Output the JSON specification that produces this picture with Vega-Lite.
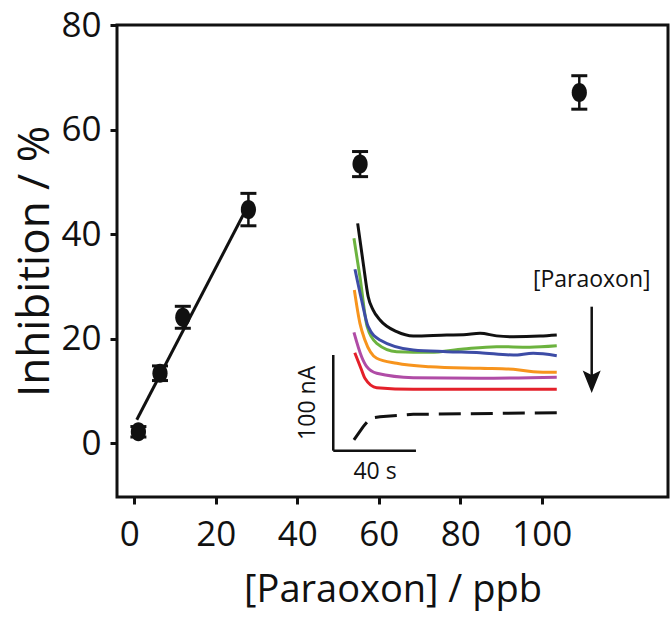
{
  "$schema": "https://vega.github.io/schema/vega-lite/v6.json",
  "width": 551,
  "height": 472,
  "autosize": {"type": "none"},
  "padding": {"left": 117, "top": 25, "right": 3, "bottom": 129},
  "background": "white",
  "config": {
    "view": {"stroke": "#111", "strokeWidth": 3},
    "font": "Open Sans",
    "axis": {
      "domain": false,
      "grid": false,
      "tickColor": "#111",
      "tickWidth": 3,
      "tickSize": 7,
      "labelColor": "#111",
      "titleColor": "#111",
      "labelFont": "Open Sans",
      "titleFont": "Open Sans",
      "labelFontSize": 35,
      "titleFontWeight": "normal"
    }
  },
  "datasets": {
    "points": [
      {"ppb": 1.0, "inh": 2.2, "lo": 1.2, "hi": 3.2},
      {"ppb": 6.3, "inh": 13.4, "lo": 12.0, "hi": 14.8},
      {"ppb": 11.9, "inh": 24.1, "lo": 22.0, "hi": 26.2},
      {"ppb": 28.0, "inh": 44.7, "lo": 41.6, "hi": 47.8},
      {"ppb": 55.4, "inh": 53.4, "lo": 51.0, "hi": 55.8},
      {"ppb": 109.2, "inh": 67.1, "lo": 63.9, "hi": 70.3}
    ],
    "fit": [
      {"ppb": 0.6, "inh": 4.5},
      {"ppb": 27.6, "inh": 45.0}
    ],
    "traces": [
      {"s": "a", "t": 11.8, "i": 237.6}, {"s": "a", "t": 14.5, "i": 195.8}, {"s": "a", "t": 16.9, "i": 160.9}, {"s": "a", "t": 19.3, "i": 147.0}, {"s": "a", "t": 22.6, "i": 136.6}, {"s": "a", "t": 30.7, "i": 124.4}, {"s": "a", "t": 38.7, "i": 119.9}, {"s": "a", "t": 54.9, "i": 120.9}, {"s": "a", "t": 63.0, "i": 121.2}, {"s": "a", "t": 71.0, "i": 122.7}, {"s": "a", "t": 79.0, "i": 120.0}, {"s": "a", "t": 87.1, "i": 119.1}, {"s": "a", "t": 100.0, "i": 119.8}, {"s": "a", "t": 108.1, "i": 120.9},
      {"s": "b", "t": 10.0, "i": 222.0}, {"s": "b", "t": 12.9, "i": 181.8}, {"s": "b", "t": 16.4, "i": 129.6}, {"s": "b", "t": 21.0, "i": 112.2}, {"s": "b", "t": 30.7, "i": 103.5}, {"s": "b", "t": 46.8, "i": 102.8}, {"s": "b", "t": 62.9, "i": 106.3}, {"s": "b", "t": 79.0, "i": 108.7}, {"s": "b", "t": 95.0, "i": 108.2}, {"s": "b", "t": 108.1, "i": 109.7},
      {"s": "c", "t": 10.5, "i": 189.6}, {"s": "c", "t": 13.7, "i": 157.5}, {"s": "c", "t": 16.9, "i": 129.6}, {"s": "c", "t": 22.6, "i": 115.7}, {"s": "c", "t": 38.7, "i": 105.2}, {"s": "c", "t": 54.9, "i": 103.5}, {"s": "c", "t": 71.0, "i": 102.4}, {"s": "c", "t": 87.1, "i": 100.0}, {"s": "c", "t": 96.7, "i": 101.8}, {"s": "c", "t": 108.1, "i": 99.3},
      {"s": "d", "t": 10.2, "i": 167.9}, {"s": "d", "t": 12.9, "i": 133.1}, {"s": "d", "t": 15.3, "i": 115.7}, {"s": "d", "t": 21.0, "i": 96.6}, {"s": "d", "t": 30.7, "i": 91.3}, {"s": "d", "t": 46.8, "i": 87.8}, {"s": "d", "t": 71.0, "i": 86.1}, {"s": "d", "t": 87.1, "i": 85.1}, {"s": "d", "t": 96.7, "i": 82.6}, {"s": "d", "t": 108.1, "i": 81.9},
      {"s": "e", "t": 10.0, "i": 123.7}, {"s": "e", "t": 13.7, "i": 98.2}, {"s": "e", "t": 16.2, "i": 87.8}, {"s": "e", "t": 21.0, "i": 80.9}, {"s": "e", "t": 38.7, "i": 76.3}, {"s": "e", "t": 71.0, "i": 75.7}, {"s": "e", "t": 108.1, "i": 76.7},
      {"s": "f", "t": 10.4, "i": 102.4}, {"s": "f", "t": 13.7, "i": 84.3}, {"s": "f", "t": 15.3, "i": 75.7}, {"s": "f", "t": 21.0, "i": 65.8}, {"s": "f", "t": 38.7, "i": 64.2}, {"s": "f", "t": 71.0, "i": 64.2}, {"s": "f", "t": 108.1, "i": 64.2}
    ],
    "blank": [
      {"t": 10.0, "i": 11.2}, {"t": 14.5, "i": 25.1}, {"t": 17.8, "i": 33.9}, {"t": 22.6, "i": 35.5}, {"t": 38.7, "i": 38.0}, {"t": 108.1, "i": 39.7}
    ],
    "bars": [
      {"t": 0, "i": 0, "t2": 0, "i2": 100},
      {"t": 0, "i": 0, "t2": 40, "i2": 0}
    ],
    "arrow": [
      {"t": 125, "i": 150.5, "i2": 72}
    ],
    "labels": [
      {"t": -12.2, "i": 50, "label": "100 nA", "angle": 270},
      {"t": 20.2, "i": -21.9, "label": "40 s", "angle": 0},
      {"t": 125, "i": 178.4, "label": "[Paraoxon]", "angle": 0}
    ]
  },
  "resolve": {"scale": {"x": "independent", "y": "independent"}},
  "layer": [
    {
      "layer": [
        {
          "data": {"name": "fit"},
          "mark": {"type": "line", "color": "#111", "strokeWidth": 3},
          "encoding": {
            "x": {"field": "ppb", "type": "quantitative",
                  "scale": {"domain": [-4.25, 130.97], "nice": false, "zero": false},
                  "axis": {"values": [0, 20, 40, 60, 80, 100], "title": "[Paraoxon] / ppb", "titleFontSize": 38,
                           "labelPadding": 13, "titlePadding": 19,
                           "labelOffset": {"condition": {"test": "datum.value == 0", "value": -5}, "value": 0}}},
            "y": {"field": "inh", "type": "quantitative",
                  "scale": {"domain": [-10.27, 80], "nice": false, "zero": false},
                  "axis": {"values": [0, 20, 40, 60, 80], "title": "Inhibition / %", "titleFontSize": 44,
                           "labelPadding": 9, "titlePadding": 3}}
          }
        },
        {
          "data": {"name": "points"},
          "mark": {"type": "rule", "color": "#111", "strokeWidth": 2.5},
          "encoding": {
            "x": {"field": "ppb", "type": "quantitative"},
            "y": {"field": "lo", "type": "quantitative"},
            "y2": {"field": "hi"}
          }
        },
        {
          "data": {"name": "points"},
          "mark": {"type": "tick", "orient": "horizontal", "color": "#111", "size": 16, "thickness": 3, "opacity": 1},
          "encoding": {
            "x": {"field": "ppb", "type": "quantitative"},
            "y": {"field": "lo", "type": "quantitative"}
          }
        },
        {
          "data": {"name": "points"},
          "mark": {"type": "tick", "orient": "horizontal", "color": "#111", "size": 16, "thickness": 3, "opacity": 1},
          "encoding": {
            "x": {"field": "ppb", "type": "quantitative"},
            "y": {"field": "hi", "type": "quantitative"}
          }
        },
        {
          "data": {"name": "points"},
          "mark": {"type": "point", "filled": true, "color": "#111", "opacity": 1, "size": 361,
                   "shape": "M-0.8,0A0.8,1 0 1,0 0.8,0A0.8,1 0 1,0 -0.8,0Z"},
          "encoding": {
            "x": {"field": "ppb", "type": "quantitative"},
            "y": {"field": "inh", "type": "quantitative"}
          }
        }
      ]
    },
    {
      "layer": [
        {
          "data": {"name": "traces"},
          "mark": {"type": "line", "strokeWidth": 3, "interpolate": "monotone"},
          "encoding": {
            "x": {"field": "t", "type": "quantitative", "axis": null,
                  "scale": {"domain": [-104.6, 161.9], "nice": false, "zero": false}},
            "y": {"field": "i", "type": "quantitative", "axis": null,
                  "scale": {"domain": [-48.4, 444.9], "nice": false, "zero": false}},
            "color": {"field": "s", "type": "nominal", "legend": null,
                      "scale": {"domain": ["a", "b", "c", "d", "e", "f"],
                                "range": ["#111111", "#6cb33f", "#3d4ca6", "#f7941d", "#b04ca6", "#e4202a"]}}
          }
        },
        {
          "data": {"name": "blank"},
          "mark": {"type": "line", "strokeWidth": 3, "color": "#111", "strokeDash": [22, 10]},
          "encoding": {
            "x": {"field": "t", "type": "quantitative"},
            "y": {"field": "i", "type": "quantitative"}
          }
        },
        {
          "data": {"name": "bars"},
          "mark": {"type": "rule", "strokeWidth": 2.5, "color": "#111"},
          "encoding": {
            "x": {"field": "t", "type": "quantitative"},
            "y": {"field": "i", "type": "quantitative"},
            "x2": {"field": "t2"},
            "y2": {"field": "i2"}
          }
        },
        {
          "data": {"name": "arrow"},
          "mark": {"type": "rule", "strokeWidth": 2.5, "color": "#111"},
          "encoding": {
            "x": {"field": "t", "type": "quantitative"},
            "y": {"field": "i", "type": "quantitative"},
            "y2": {"field": "i2"}
          }
        },
        {
          "data": {"name": "arrow"},
          "mark": {"type": "point", "filled": true, "color": "#111", "opacity": 1, "size": 2025,
                   "shape": "M-0.4,-0.5L0,-0.3L0.4,-0.5L0,0.5Z"},
          "encoding": {
            "x": {"field": "t", "type": "quantitative"},
            "y": {"field": "i2", "type": "quantitative"}
          }
        },
        {
          "data": {"name": "labels"},
          "mark": {"type": "text", "fontSize": 23, "color": "#111", "align": "center", "baseline": "middle", "font": "Open Sans"},
          "encoding": {
            "x": {"field": "t", "type": "quantitative"},
            "y": {"field": "i", "type": "quantitative"},
            "text": {"field": "label"},
            "angle": {"field": "angle", "type": "quantitative", "scale": null}
          }
        }
      ]
    }
  ]
}
